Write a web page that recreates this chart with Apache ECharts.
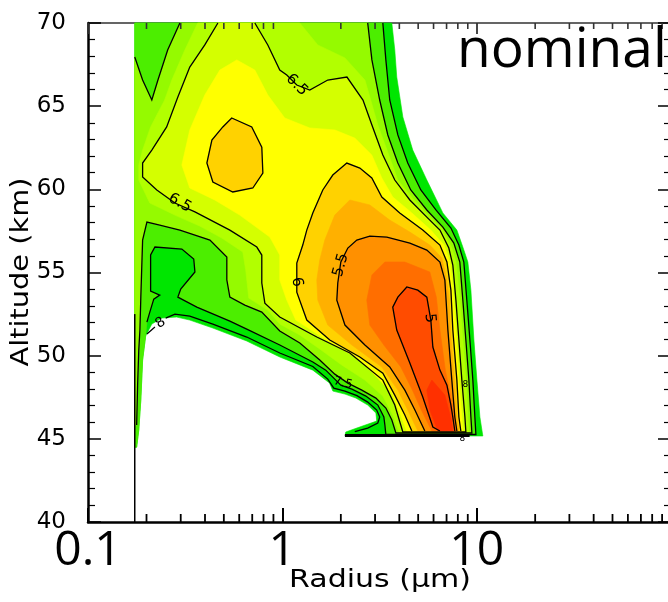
<!DOCTYPE html>
<html>
<head>
<meta charset="utf-8">
<script src="https://cdn.jsdelivr.net/npm/echarts@6/dist/echarts.min.js"></script>
<style>
html, body { margin: 0; padding: 0; background: #fff; }
#main { width: 668px; height: 602px; }
</style>
</head>
<body>
<div id="main"></div>
<script>
// tick values / labels
var xTickValues = [0.1, 1, 10, 100];
var xTickLabels = ['0.1', '1', '10', ''];
var xMinor = [0.2, 0.3, 0.4, 0.5, 0.6, 0.7, 0.8, 0.9, 2, 3, 4, 5, 6, 7, 8, 9, 20, 30, 40, 50, 60, 70, 80, 90];

// contour geometry, [radius (um), altitude (km)]
var domainEdge = [[0.174,70],[3.66,70],[3.79,68.38],[3.88,66.75],[4.17,64.35],[4.69,62.36],[5.54,60.56],[6.70,58.58],[7.91,57.55],[8.49,56.53],[9.01,55.63],[9.34,53.94],[9.68,50.94],[10.03,48.53],[10.39,46.31],[10.64,45.53],[10.76,45.17],[2.10,45.17],[2.12,45.41],[2.50,45.71],[3.06,46.07],[3.03,46.55],[2.75,47.03],[2.39,47.45],[2.10,47.69],[1.82,47.87],[1.75,48.35],[1.435,49.13],[0.970,49.92],[0.656,50.88],[0.439,51.66],[0.334,52.14],[0.286,52.32],[0.240,52.26],[0.213,51.9],[0.198,51.18],[0.191,49.74],[0.187,47.33],[0.1825,45.53],[0.178,44.5],[0.174,44.5]];

var line75 = [[3.29,70],[3.41,67.78],[3.57,65.37],[3.93,63.27],[4.42,61.58],[5.16,59.96],[6.17,58.76],[7.37,57.67],[8.10,56.65],[8.59,55.63],[8.90,53.34],[9.23,50.94],[9.56,48.53],[9.79,46.31],[9.91,45.26],[3.41,45.26],[3.37,45.83],[3.33,46.31],[3.10,47.03],[2.69,47.57],[2.28,47.99],[2.0,48.23],[1.884,48.53],[1.673,49.13],[1.435,49.62],[0.970,50.64],[0.656,51.6],[0.537,52.08],[0.363,52.92],[0.290,53.52],[0.300,54.0],[0.355,55.03],[0.350,55.81],[0.304,56.41],[0.221,56.53],[0.210,56.05],[0.210,53.88],[0.234,53.64],[0.218,53.4],[0.208,52.62],[0.201,52.02]];
var close75 = [[0.198,51.18],[0.191,49.74],[0.187,47.33],[0.1825,45.53],[0.178,44.5],[0.174,44.5],[0.174,70]];

var lineV = [[0.174,67.96],[0.191,66.57],[0.213,65.37],[0.229,66.57],[0.257,68.38],[0.297,70]];
var line7 = [[2.75,70],[2.89,67.78],[3.17,65.37],[3.49,63.27],[3.93,61.58],[4.58,59.96],[5.54,58.76],[6.70,57.73],[7.63,56.77],[8.19,55.63],[8.49,53.34],[8.80,50.94],[9.12,48.53],[9.34,46.31],[9.45,45.35],[3.84,45.35],[3.66,46.13],[3.41,46.85],[3.03,47.45],[2.565,47.93],[2.173,48.35],[1.862,48.89],[1.558,49.74],[1.23,50.76],[0.970,51.48],[0.784,52.62],[0.641,53.04],[0.537,53.52],[0.518,54.55],[0.518,55.93],[0.424,56.95],[0.297,57.55],[0.234,57.85],[0.201,58.03],[0.191,56.95],[0.187,53.52],[0.185,51.54],[0.1825,50.34],[0.180,48.23],[0.178,45.83]];
var close7 = [[0.174,45.83]];

var poly675 = [[0.367,70],[0.315,68.38],[0.270,66.57],[0.248,65.37],[0.210,63.75],[0.191,62.36],[0.1825,61.46],[0.1825,60.56],[0.208,59.18],[0.280,58.45],[0.376,57.79],[0.488,57.07],[0.626,56.23],[0.648,55.15],[0.672,53.46],[0.842,52.74],[0.970,51.9],[1.23,51.24],[1.558,50.4],[2.02,49.44],[2.66,48.53],[3.29,47.57],[3.70,46.43],[3.98,45.41],[9.12,45.41],[9.01,46.31],[8.80,48.53],[8.49,50.94],[8.19,53.34],[7.82,55.63],[7.45,56.47],[6.70,57.55],[5.74,58.33],[4.75,59.36],[3.93,60.56],[3.53,62.06],[3.10,63.87],[2.85,65.37],[2.66,66.57],[2.10,67.9],[1.522,68.68],[1.23,70]];

var line65 = [[0.466,70],[0.399,68.68],[0.334,67.35],[0.290,65.55],[0.254,63.75],[0.213,62.36],[0.191,61.58],[0.191,60.74],[0.226,59.96],[0.280,59.18],[0.355,58.64],[0.537,57.55],[0.739,56.53],[0.784,56.05],[0.784,54.37],[0.813,53.16],[0.970,52.32],[1.504,51.12],[2.224,50.16],[3.29,48.53],[3.79,47.03],[4.17,45.41],[8.80,45.41],[8.70,46.31],[8.39,48.53],[8.10,50.94],[7.82,53.34],[7.54,55.45],[7.19,56.47],[6.47,57.55],[5.54,58.33],[4.53,59.36],[3.79,60.56],[3.29,62.06],[2.89,63.87],[2.60,65.37],[2.15,66.75],[1.713,66.57],[1.384,65.97],[1.187,66.27],[1.054,66.87],[0.970,67.17],[0.842,68.68],[0.722,70]];

var poly625 = [[0.583,67.78],[0.722,67.17],[0.842,65.67],[1.029,64.29],[1.384,63.69],[1.862,63.57],[2.36,63.08],[2.887,62.06],[3.25,60.68],[3.70,59.54],[4.64,58.58],[5.81,57.55],[6.78,56.65],[7.28,55.63],[7.54,53.94],[7.82,51.54],[8.10,48.53],[8.39,46.31],[8.49,45.44],[4.37,45.44],[4.07,46.43],[3.66,47.75],[3.03,48.77],[2.47,49.8],[1.754,50.82],[1.173,52.14],[1.054,53.34],[0.970,54.55],[0.970,56.05],[0.862,57.13],[0.604,58.45],[0.449,59.36],[0.334,60.08],[0.304,61.46],[0.334,63.57],[0.399,65.67],[0.477,67.17]];

var blob6 = [[0.549,64.29],[0.696,63.75],[0.784,62.54],[0.794,60.98],[0.705,60.08],[0.556,59.84],[0.439,60.44],[0.409,61.58],[0.434,62.96],[0.494,63.75]];

var line6 = [[4.64,45.47],[4.27,46.43],[3.79,47.63],[3.29,48.95],[2.505,49.92],[1.754,50.94],[1.336,52.14],[1.187,53.82],[1.187,55.57],[1.274,56.65],[1.336,57.55],[1.435,58.58],[1.615,59.96],[1.818,60.86],[2.147,61.58],[2.505,61.28],[2.887,60.68],[3.25,59.54],[4.02,58.58],[5.28,57.55],[6.47,56.65],[7.03,55.63],[7.37,53.94],[7.54,51.54],[7.91,48.53],[8.10,46.31],[8.29,45.47]];

var poly575 = [[4.98,45.47],[4.42,46.73],[3.93,47.93],[3.25,49.32],[2.28,50.64],[1.713,51.84],[1.522,53.34],[1.504,54.55],[1.558,55.75],[1.654,56.95],[1.862,58.45],[2.224,59.36],[2.82,59.06],[3.57,58.15],[4.53,57.43],[5.74,56.65],[6.62,55.87],[6.94,54.85],[7.24,53.34],[7.32,51.54],[7.68,48.53],[7.91,46.31],[8.10,45.47]];

var line55 = [[5.41,45.47],[4.81,46.73],[4.27,47.93],[3.57,49.32],[2.66,50.64],[2.10,51.84],[1.907,53.34],[1.929,54.37],[2.0,55.63],[2.173,56.47],[2.417,56.95],[2.82,57.19],[3.45,57.13],[4.53,56.77],[5.54,56.35],[6.47,55.63],[6.86,54.55],[7.11,51.54],[7.45,48.53],[7.72,46.31],[7.91,45.47]];

var poly525 = [[5.88,45.47],[5.19,46.73],[4.67,47.93],[4.07,49.32],[3.33,50.64],[2.82,51.84],[2.72,53.34],[2.89,54.85],[3.37,55.63],[4.27,55.63],[5.74,55.03],[6.2,53.52],[6.47,51.54],[6.9,49.13],[7.5,47.03],[7.82,45.47]];

var line5 = [[6.47,45.47],[5.95,45.71],[5.28,47.51],[4.53,49.56],[3.88,51.54],[3.70,52.92],[3.93,53.52],[4.37,54.13],[4.98,53.94],[5.54,53.52],[5.81,52.14],[5.95,50.52],[6.47,49.13],[7.03,48.23],[7.37,47.03],[7.54,46.31],[7.72,45.47]];

var poly475 = [[5.88,48.53],[6.86,47.63],[7.37,46.25],[7.54,45.47],[6.31,45.47],[5.74,46.73],[5.54,47.93]];

var line8 = [[0.251,52.26],[0.280,52.5],[0.334,52.38],[0.439,51.9],[0.656,51.12],[0.970,50.16],[1.435,49.35],[1.713,48.59],[1.84,48.05],[2.10,47.87],[2.42,47.6],[2.75,47.21],[3.06,46.73],[3.17,46.31],[3.10,45.95],[2.75,45.65],[2.36,45.44]];
var line8b = [[0.221,51.72],[0.201,51.3]];
var leftEdge = [[0.174,52.5],[0.174,40]];
var bottomEdge = [[2.1,45.2],[9.2,45.2]];

var labelPos = [[0.297,59.18],[1.187,66.27],[1.187,54.43],[2.0,55.45],[5.74,52.26],[0.236,51.96],[2.05,48.35],[8.75,48.23],[8.45,45.0]];
var labelText = ['6.5', '6.5', '6', '5.5', '5', '8', '7.5', '8', '8'];

// styles
var labelAngle = [-30, -45, -80, 75, -85, 35, -15, 0, 0];
var labelSize = [15, 15, 15, 15, 15, 14, 12, 9, 9];
var yMin = 40, yMax = 70;

var fills = [
	[domainEdge, '#00e600'],
	[line75.concat(close75), '#4cee00'],
	[lineV.concat(line7, close7), '#95fa00'],
	[poly675, '#b2ff00'],
	[line65, '#d4ff00'],
	[poly625, '#ffff00'],
	[blob6, '#ffd200'],
	[line6, '#ffd200'],
	[poly575, '#ffb000'],
	[line55, '#ff9000'],
	[poly525, '#ff6e00'],
	[line5, '#ff4c00'],
	[poly475, '#ff3000']
];
var strokes = [
	[lineV, false, 1.3], [line7, false, 1.3], [line75, false, 1.3], [line65, false, 1.3],
	[line6, false, 1.3], [blob6, true, 1.3], [line55, false, 1.3], [line5, false, 1.3],
	[line8, false, 1.3], [line8b, false, 1.3], [leftEdge, false, 1.5], [bottomEdge, false, 3]
];

function toPx(pts, api) {
	return pts.map(function (p) { return api.coord(p); });
}

function fmtX(v) {
	for (var i = 0; i < xTickValues.length; i++) {
		if (Math.abs(Math.log10(v) - Math.log10(xTickValues[i])) < 1e-6) return xTickLabels[i];
	}
	return '';
}

var chart = echarts.init(document.getElementById('main'));

var option = {
	animation: false,
	grid: { left: 88, right: -3, top: 23, bottom: 80, containLabel: false, outerBoundsMode: 'none' },
	xAxis: [{
		type: 'log', logBase: 10, min: 0.1, max: 100, position: 'bottom',
		axisLine: { show: true, lineStyle: { color: '#000', width: 2.5 } },
		axisTick: { show: true, inside: true, length: 14, lineStyle: { color: '#000', width: 2 } },
		axisLabel: { margin: 5, color: '#000', fontSize: 48, fontFamily: 'Open Sans', formatter: fmtX },
		splitLine: { show: false }
	}, {
		type: 'log', logBase: 10, min: 0.1, max: 100, position: 'top',
		axisLine: { show: true, lineStyle: { color: '#333', width: 1.5 } },
		axisTick: { show: true, inside: true, length: 11, lineStyle: { color: '#333', width: 1.8 } },
		axisLabel: { show: false },
		splitLine: { show: false }
	}],
	yAxis: [{
		type: 'value', min: yMin, max: yMax, interval: 5, position: 'left',
		axisLine: { show: true, lineStyle: { color: '#000', width: 2.5 } },
		axisTick: { show: true, inside: true, length: 13, lineStyle: { color: '#000', width: 1.5 } },
		minorTick: { show: true, splitNumber: 5, length: 7, lineStyle: { color: '#000', width: 1.2 } },
		axisLabel: { margin: 22, color: '#000', fontSize: 23, fontFamily: 'DejaVu Sans' },
		splitLine: { show: false }
	}, {
		type: 'value', min: yMin, max: yMax, interval: 5, position: 'right',
		axisLine: { show: true, lineStyle: { color: '#000', width: 2 } },
		axisTick: { show: true, inside: true, length: 13, lineStyle: { color: '#000', width: 1.5 } },
		minorTick: { show: true, splitNumber: 5, length: 7, lineStyle: { color: '#000', width: 1.2 } },
		axisLabel: { show: false },
		splitLine: { show: false }
	}],
	graphic: [{
		type: 'text', x: 457, y: 51, z: 100,
		style: { text: 'nominal', font: '55px "Open Sans"', fill: '#000', align: 'left', verticalAlign: 'middle' }
	}, {
		type: 'text', x: 380, y: 581, scaleX: 1.25,
		style: { text: 'Radius (\u03bcm)', font: '24px "DejaVu Sans"', fill: '#000', align: 'center', verticalAlign: 'middle' }
	}, {
		type: 'text', x: 22, y: 272, rotation: Math.PI / 2, scaleX: 1.2,
		style: { text: 'Altitude (km)', font: '24px "DejaVu Sans"', fill: '#000', align: 'center', verticalAlign: 'middle' }
	}],
	series: [{
		type: 'custom', name: 'fills', silent: true,
		data: fills.map(function (f) { return f[0][0]; }),
		renderItem: function (params, api) {
			var f = fills[params.dataIndex];
			return {
				type: 'polygon', z2: params.dataIndex,
				shape: { points: toPx(f[0], api) },
				style: { fill: f[1], stroke: f[1], lineWidth: 0.6 }
			};
		}
	}, {
		type: 'custom', name: 'lines', silent: true,
		data: strokes.map(function (s) { return s[0][0]; }),
		renderItem: function (params, api) {
			var s = strokes[params.dataIndex];
			return {
				type: s[1] ? 'polygon' : 'polyline', z2: 100,
				shape: { points: toPx(s[0], api) },
				style: { fill: null, stroke: '#000', lineWidth: s[2] }
			};
		}
	}, {
		type: 'custom', name: 'labels', silent: true,
		data: labelPos,
		renderItem: function (params, api) {
			var i = params.dataIndex;
			var p = api.coord(labelPos[i]);
			return {
				type: 'text', x: p[0], y: p[1], z2: 110, rotation: labelAngle[i] * Math.PI / 180,
				style: { text: labelText[i], font: labelSize[i] + 'px "DejaVu Sans"', fill: '#000', align: 'center', verticalAlign: 'middle' }
			};
		}
	}, {
		type: 'custom', name: 'minorTicks', silent: true,
		data: xMinor.map(function (v) { return [v, yMin]; }),
		renderItem: function (params, api) {
			var v = xMinor[params.dataIndex];
			var b = api.coord([v, yMin]);
			var t = api.coord([v, yMax]);
			return {
				type: 'group',
				children: [
					{ type: 'polyline', z2: 120, shape: { points: [b, [b[0], b[1] - 8]] }, style: { fill: null, stroke: '#000', lineWidth: 1.8 } },
					{ type: 'polyline', z2: 120, shape: { points: [t, [t[0], t[1] + 6]] }, style: { fill: null, stroke: '#333', lineWidth: 1.6 } }
				]
			};
		}
	}]
};

chart.setOption(option);
</script>
</body>
</html>
